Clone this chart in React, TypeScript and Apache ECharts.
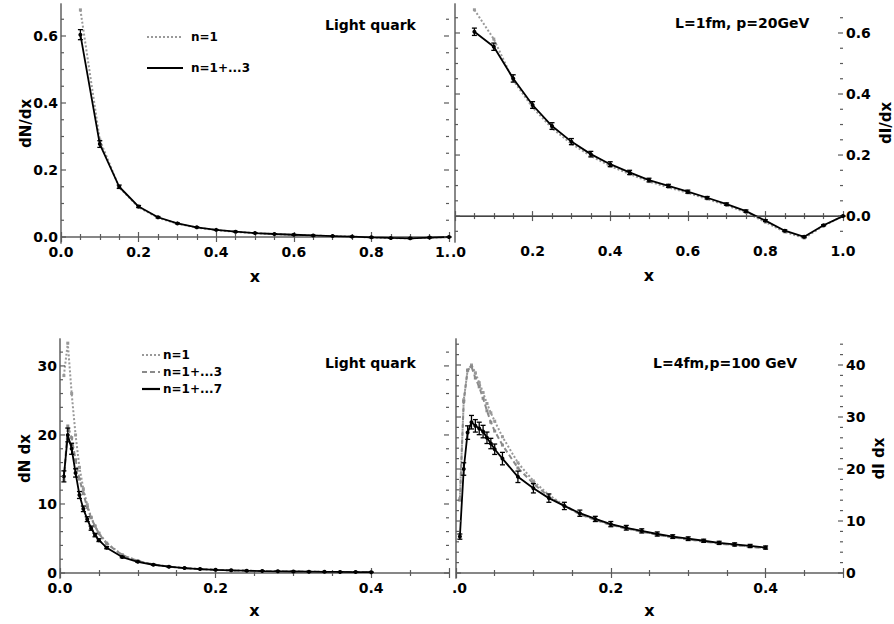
import React, { useEffect, useRef } from "react";
import * as echarts from "echarts";

// ---------------- data ----------------
const X_TOP = [0.05, 0.1, 0.15, 0.2, 0.25, 0.3, 0.35, 0.4, 0.45, 0.5, 0.55, 0.6, 0.65, 0.7, 0.75, 0.8, 0.85, 0.9, 0.95, 1.0];
const TL_N1 = [0.678, 0.29, 0.148, 0.089, 0.0576, 0.0395, 0.0281, 0.0205, 0.0153, 0.0113, 0.0085, 0.0063, 0.0043, 0.0025, 0.0008, -0.0013, -0.0031, -0.004, -0.0017, 0];
const TL_N3 = [0.604, 0.2775, 0.15, 0.091, 0.059, 0.0407, 0.029, 0.0213, 0.0159, 0.0118, 0.009, 0.0067, 0.0046, 0.0028, 0.0011, -0.0009, -0.0028, -0.0038, -0.0016, 0];
const TL_ERR = [0.015, 0.01, 0.005, 0.003, 0.002, 0.0015, 0.001, 0.001, 0.001, 0.001, 0.001, 0.001, 0.001, 0.001, 0.001, 0.001, 0.001, 0.001, 0.001, 0];
const TR_N1 = [0.676, 0.58, 0.445, 0.356, 0.288, 0.237, 0.197, 0.164, 0.138, 0.113, 0.094, 0.076, 0.056, 0.035, 0.012, -0.02, -0.052, -0.072, -0.032, 0];
const TR_N3 = [0.604, 0.555, 0.451, 0.364, 0.295, 0.244, 0.203, 0.17, 0.143, 0.118, 0.099, 0.08, 0.06, 0.039, 0.016, -0.015, -0.048, -0.068, -0.03, 0];
const TR_ERR = [0.012, 0.012, 0.012, 0.011, 0.011, 0.01, 0.009, 0.008, 0.007, 0.006, 0.005, 0.005, 0.004, 0.004, 0.004, 0.003, 0.003, 0.003, 0.002, 0];

const X_BOTTOM = [0.005, 0.01, 0.015, 0.02, 0.025, 0.03, 0.035, 0.04, 0.045, 0.05, 0.06, 0.08, 0.1, 0.12, 0.14, 0.16, 0.18, 0.2, 0.22, 0.24, 0.26, 0.28, 0.3, 0.32, 0.34, 0.36, 0.38, 0.4];
const BL_N1 = [28.6, 33.3, 26.0, 20.0, 15.3, 12.2, 9.9, 8.1, 6.8, 5.8, 4.35, 2.63, 1.75, 1.24, 0.93, 0.71, 0.57, 0.465, 0.39, 0.333, 0.285, 0.246, 0.217, 0.19, 0.168, 0.15, 0.134, 0.12];
const BL_N3 = [13.5, 21.3, 19.6, 16.4, 13.6, 11.5, 9.5, 8.0, 6.8, 5.7, 4.25, 2.6, 1.75, 1.24, 0.93, 0.715, 0.572, 0.465, 0.391, 0.333, 0.285, 0.246, 0.216, 0.19, 0.168, 0.15, 0.134, 0.12];
const BL_N7 = [14.0, 20.0, 18.0, 14.5, 11.3, 9.3, 7.8, 6.5, 5.5, 4.76, 3.67, 2.31, 1.63, 1.2, 0.92, 0.72, 0.58, 0.47, 0.395, 0.338, 0.288, 0.25, 0.22, 0.194, 0.171, 0.153, 0.137, 0.123];
const BL_ERR = [0.8, 1.0, 0.8, 0.6, 0.5, 0.4, 0.35, 0.3, 0.25, 0.2, 0.15, 0.1, 0.08, 0.05, 0.04, 0.03, 0.03, 0.02, 0.02, 0.02, 0.02, 0.02, 0.02, 0.02, 0.02, 0.02, 0.02, 0.02];
const BR_N1 = [14.3, 33.3, 39.0, 40.0, 38.5, 36.6, 34.7, 32.6, 30.8, 29.2, 26.2, 21.2, 17.7, 15.0, 13.0, 11.4, 10.3, 9.3, 8.6, 8.0, 7.4, 6.9, 6.5, 6.1, 5.7, 5.4, 5.1, 4.8];
const BR_N3 = [14.0, 33.0, 39.0, 39.7, 37.5, 35.8, 33.6, 31.2, 29.0, 27.3, 24.6, 20.2, 17.2, 14.7, 12.9, 11.3, 10.2, 9.25, 8.55, 7.95, 7.35, 6.85, 6.45, 6.05, 5.65, 5.35, 5.05, 4.75];
const BR_N7 = [7.0, 20.0, 27.0, 29.0, 28.3, 27.8, 27.2, 26.0, 24.9, 23.8, 22.0, 18.5, 16.3, 14.4, 12.9, 11.5, 10.4, 9.4, 8.7, 8.1, 7.5, 7.0, 6.6, 6.2, 5.8, 5.5, 5.2, 4.9];
const BR_ERR = [0.5, 1.2, 1.3, 1.3, 1.2, 1.2, 1.2, 1.1, 1.0, 1.0, 1.2, 1.1, 0.9, 0.8, 0.7, 0.6, 0.5, 0.5, 0.45, 0.4, 0.4, 0.35, 0.35, 0.3, 0.3, 0.3, 0.3, 0.3];

// tick label values
const TL_X_LABELS = [0, 0.2, 0.4, 0.6, 0.8];
const TR_X_LABELS = [0.2, 0.4, 0.6, 0.8, 1.0];
const TOP_Y_TICKS = [0, 0.2, 0.4, 0.6];
const BL_X_LABELS = [0, 0.2, 0.4];
const BR_X_LABELS = [0.2, 0.4];
const BL_Y_TICKS = [0, 10, 20, 30];
const BR_Y_TICKS = [0, 10, 20, 30, 40];

// ---------------- style ----------------
const FONT = "DejaVu Sans";
const FRAME = "#808080";
const TICK = "#5a5a5a";
const GRAY_DOT = "#999";
const GRAY_DASH = "#8a8a8a";

const steps = (a: number, b: number, s: number) => {
  const out: number[] = [];
  for (let v = a; v <= b + s * 1e-6; v += s) out.push(Math.round(v * 1e6) / 1e6);
  return out;
};

const pairs = (xs: number[], ys: number[]) => xs.map((x, i) => [x, ys[i]]);
const errs = (xs: number[], ys: number[], es: number[]) => xs.map((x, i) => [x, ys[i] - es[i], ys[i] + es[i]]);

const labelFont = { color: "#000", fontFamily: FONT, fontWeight: "bold", fontSize: 14 };
const nameFont = { color: "#000", fontFamily: FONT, fontWeight: "bold", fontSize: 15 };

type Panel = {
  xMin: number; xMax: number; yMin: number; yMax: number;
  xLabels: number[]; xMargin: number; xNameGap: number;
  yMajor: number[]; yMinor: number[]; yLabels: number[]; yFmt: (v: number) => string;
  ySide: "left" | "right"; yName: string; yNameGap: number;
};

const panels: Panel[] = [
  {
    xMin: 0, xMax: 1, yMin: -0.0179, yMax: 0.6955,
    xLabels: TL_X_LABELS, xMargin: 2, xNameGap: 25,
    yMajor: TOP_Y_TICKS, yMinor: steps(0, 0.65, 0.05), yLabels: TOP_Y_TICKS, yFmt: (v) => v.toFixed(1),
    ySide: "left", yName: "dN/dx", yNameGap: 28,
  },
  {
    xMin: 0, xMax: 1, yMin: -0.085, yMax: 0.695,
    xLabels: TR_X_LABELS, xMargin: 2, xNameGap: 25,
    yMajor: TOP_Y_TICKS, yMinor: steps(-0.05, 0.65, 0.05), yLabels: TOP_Y_TICKS, yFmt: (v) => v.toFixed(1),
    ySide: "right", yName: "dI/dx", yNameGap: 35,
  },
  {
    xMin: 0, xMax: 0.5, yMin: -0.72, yMax: 33.9,
    xLabels: BL_X_LABELS, xMargin: 3, xNameGap: 24,
    yMajor: BL_Y_TICKS, yMinor: steps(0, 32, 2), yLabels: BL_Y_TICKS, yFmt: (v) => String(v),
    ySide: "left", yName: "dN dx", yNameGap: 28,
  },
  {
    xMin: 0, xMax: 0.5, yMin: -0.96, yMax: 45,
    xLabels: BR_X_LABELS, xMargin: 3, xNameGap: 24,
    yMajor: BR_Y_TICKS, yMinor: steps(0, 44, 2), yLabels: BR_Y_TICKS, yFmt: (v) => String(v),
    ySide: "right", yName: "dI dx", yNameGap: 28,
  },
];

const grids = [
  { left: 61, top: 4, width: 388, height: 239 },
  { left: 455, top: 4, width: 389, height: 238 },
  { left: 60, top: 339, width: 389, height: 239 },
  { left: 456, top: 339, width: 387, height: 239 },
];

function buildAxes() {
  const xAxis: any[] = [];
  const yAxis: any[] = [];
  panels.forEach((p, g) => {
    const frame = { show: true, lineStyle: { color: FRAME, width: 1.5 } };
    // x axes start at 0, so native interval ticks line up with the original
    const xBase = {
      type: "value", gridIndex: g, min: p.xMin, max: p.xMax, interval: 0.2, splitLine: { show: false },
      axisTick: { show: true, inside: true, length: 5, lineStyle: { color: TICK, width: 1.2 } },
      minorTick: { show: true, splitNumber: 4, length: 3, lineStyle: { color: TICK, width: 1.2 } },
      minorSplitLine: { show: false },
    };
    const yBase = { type: "value", gridIndex: g, min: p.yMin, max: p.yMax, splitLine: { show: false }, axisTick: { show: false } };
    xAxis.push({
      ...xBase, position: "bottom", axisLine: frame,
      axisLabel: { show: true, customValues: p.xLabels, formatter: (v: number) => v.toFixed(1), margin: p.xMargin, ...labelFont },
      name: "x", nameLocation: "middle", nameGap: p.xNameGap, nameMoveOverlap: false, nameTextStyle: { ...nameFont, fontSize: 16 },
    });
    xAxis.push({ ...xBase, position: "top", axisLine: frame, axisLabel: { show: false } });
    const sides: ("left" | "right")[] = ["left", "right"];
    sides.forEach((side) => {
      const labeled = side === p.ySide;
      yAxis.push({
        ...yBase, position: side, axisLine: frame,
        axisLabel: labeled
          ? { show: true, customValues: p.yLabels, formatter: p.yFmt, margin: 3, ...labelFont }
          : { show: false },
        ...(labeled
          ? {
              name: p.yName, nameLocation: "middle", nameRotate: 90, nameGap: p.yNameGap,
              nameMoveOverlap: false, nameTextStyle: nameFont,
            }
          : {}),
      });
    });
  });
  return { xAxis, yAxis };
}

// y frame ticks: positions go through the axes' own scales (api.coord)
const tickStyle = { stroke: TICK, lineWidth: 1.2, fill: "none" };
const makeYTickRender = (p: Panel) => (params: any, api: any) => {
  const v = api.value(1);
  const len = api.value(2);
  const l = api.coord([p.xMin, v]);
  const r = api.coord([p.xMax, v]);
  return {
    type: "group",
    children: [
      { type: "line", shape: { x1: l[0], y1: l[1], x2: l[0] + len, y2: l[1] }, style: tickStyle },
      { type: "line", shape: { x1: r[0], y1: r[1], x2: r[0] - len, y2: r[1] }, style: tickStyle },
    ],
  };
};

function yTickSeries(g: number): any {
  const p = panels[g];
  const yData = p.yMinor.map((v) => [p.xMin, v, p.yMajor.includes(v) ? 5 : 3]);
  return {
    type: "custom", xAxisIndex: g * 2, yAxisIndex: g * 2, data: yData, renderItem: makeYTickRender(p),
    encode: { x: 0, y: [1, 2] }, z: 5,
  };
}

const errorBarRender = (params: any, api: any) => {
  const x = api.value(0);
  const lo = api.coord([x, api.value(1)]);
  const hi = api.coord([x, api.value(2)]);
  const hw = 2.5;
  const style = { stroke: "#000", lineWidth: 1.3, fill: "none" };
  return {
    type: "group",
    children: [
      { type: "line", shape: { x1: lo[0], y1: lo[1], x2: hi[0], y2: hi[1] }, style },
      { type: "line", shape: { x1: lo[0] - hw, y1: lo[1], x2: lo[0] + hw, y2: lo[1] }, style },
      { type: "line", shape: { x1: hi[0] - hw, y1: hi[1], x2: hi[0] + hw, y2: hi[1] }, style },
    ],
  };
};

function lineSeries(name: string, g: number, data: number[][], kind: "dot" | "dash" | "solid", extra: any = {}) {
  const ax = g * 2;
  const color = kind === "solid" ? "#000" : kind === "dot" ? GRAY_DOT : GRAY_DASH;
  return {
    type: "line", name, xAxisIndex: ax, yAxisIndex: ax, data,
    symbol: kind === "solid" ? "circle" : "rect",
    symbolSize: kind === "solid" ? 4 : 3,
    itemStyle: { color },
    lineStyle: { color, width: kind === "solid" ? 1.8 : 2, type: kind === "dot" ? [2, 2] : kind === "dash" ? [5, 3] : "solid" },
    z: kind === "solid" ? 4 : 3,
    ...extra,
  };
}

function errSeries(g: number, data: number[][]) {
  const ax = g * 2;
  return {
    type: "custom", xAxisIndex: ax, yAxisIndex: ax, data, renderItem: errorBarRender,
    encode: { x: 0, y: [1, 2] }, z: 5,
  };
}

function legendLine(x1: number, x2: number, y: number, kind: "dot" | "dash" | "solid") {
  const color = kind === "solid" ? "#000" : kind === "dot" ? GRAY_DOT : GRAY_DASH;
  return {
    type: "line", shape: { x1, y1: y, x2, y2: y },
    style: { stroke: color, lineWidth: kind === "solid" ? 2.2 : 2, lineDash: kind === "dot" ? [2, 2] : kind === "dash" ? [5, 3] : null },
  };
}
function gText(x: number, y: number, text: string, size = 12, align = "left") {
  return {
    type: "text", x, y,
    style: { text, fill: "#000", font: `bold ${size}px "${FONT}"`, align, verticalAlign: "middle" },
  };
}

export default function App() {
  const ref = useRef<HTMLDivElement>(null);
  useEffect(() => {
    if (!ref.current) return;
    const chart = echarts.init(ref.current, null, { renderer: "svg" });
    const { xAxis, yAxis } = buildAxes();
    const series: any[] = [
      yTickSeries(0), yTickSeries(1), yTickSeries(2), yTickSeries(3),
      // top-left
      lineSeries("n=1", 0, pairs(X_TOP, TL_N1), "dot"),
      lineSeries("n=1+...3", 0, pairs(X_TOP, TL_N3), "solid"),
      errSeries(0, errs(X_TOP, TL_N3, TL_ERR)),
      // top-right
      lineSeries("n=1", 1, pairs(X_TOP, TR_N1), "dot", {
        markLine: {
          silent: true, symbol: "none", label: { show: false },
          lineStyle: { color: "#444", width: 1, type: "solid" }, data: [{ yAxis: 0 }],
        },
      }),
      lineSeries("n=1+...3", 1, pairs(X_TOP, TR_N3), "solid"),
      errSeries(1, errs(X_TOP, TR_N3, TR_ERR)),
      // bottom-left
      lineSeries("n=1", 2, pairs(X_BOTTOM, BL_N1), "dot"),
      lineSeries("n=1+...3", 2, pairs(X_BOTTOM, BL_N3), "dash"),
      lineSeries("n=1+...7", 2, pairs(X_BOTTOM, BL_N7), "solid"),
      errSeries(2, errs(X_BOTTOM, BL_N7, BL_ERR)),
      // bottom-right
      lineSeries("n=1", 3, pairs(X_BOTTOM, BR_N1), "dot"),
      lineSeries("n=1+...3", 3, pairs(X_BOTTOM, BR_N3), "dash"),
      lineSeries("n=1+...7", 3, pairs(X_BOTTOM, BR_N7), "solid"),
      errSeries(3, errs(X_BOTTOM, BR_N7, BR_ERR)),
    ];
    const graphic: any[] = [
      legendLine(147, 183, 37, "dot"),
      gText(191, 37, "n=1"),
      legendLine(147, 183, 68, "solid"),
      gText(191, 68, "n=1+...3"),
      legendLine(142, 160, 355, "dot"),
      gText(163, 355, "n=1"),
      legendLine(142, 160, 372, "dash"),
      gText(163, 372, "n=1+...3"),
      legendLine(142, 160, 389, "solid"),
      gText(163, 389, "n=1+...7"),
      gText(325, 25, "Light quark", 14),
      gText(675, 23, "L=1fm, p=20GeV", 14),
      gText(325, 363, "Light quark", 14),
      gText(653, 363, "L=4fm,p=100 GeV", 14),
      // shared-edge tick labels, clipped as in the original figure
      gText(450, 252, "1.", 14, "right"),
      gText(451, 252, ".0", 14, "left"),
      gText(452, 588, ".0", 14, "left"),
    ];
    chart.setOption({
      animation: false,
      backgroundColor: "#fff",
      grid: grids,
      xAxis,
      yAxis,
      series,
      graphic,
    });
    return () => chart.dispose();
  }, []);
  return <div ref={ref} style={{ position: "absolute", left: 0, top: 0, width: 894, height: 624 }} />;
}
